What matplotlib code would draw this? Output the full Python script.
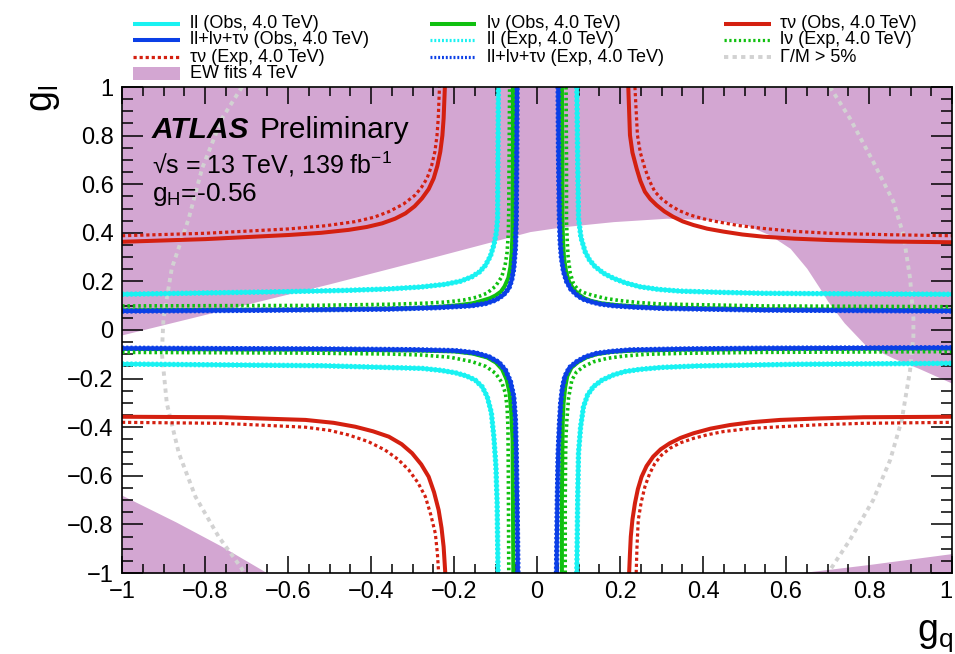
import matplotlib
matplotlib.use("Agg")
import matplotlib.pyplot as plt
from matplotlib.lines import Line2D
from matplotlib.patches import Rectangle
from matplotlib.ticker import MultipleLocator

plt.rcParams['font.family'] = ['Liberation Sans', 'DejaVu Sans']
plt.rcParams['mathtext.fontset'] = 'custom'
plt.rcParams['mathtext.rm'] = 'Liberation Sans'
plt.rcParams['mathtext.it'] = 'Liberation Sans'

# 95% CL contours in the (g_q, g_l) plane, one list of (g_q, g_l) per quadrant
# tr = top right, tl = top left, bl = bottom left, br = bottom right

# ll (dilepton) observed
ll_obs_tr = [(0.096, 1.0), (0.098, 0.7), (0.100, 0.46), (0.106, 0.38), (0.116, 0.322), (0.127, 0.287),
             (0.140, 0.261), (0.160, 0.234), (0.184, 0.213), (0.213, 0.194), (0.248, 0.178),
             (0.293, 0.167), (0.345, 0.160), (0.44, 0.155), (0.545, 0.151), (0.75, 0.149), (1.0, 0.147)]
ll_obs_tl = [(-1.0, 0.147), (-0.598, 0.158), (-0.46, 0.163), (-0.357, 0.169), (-0.28, 0.177),
             (-0.221, 0.188), (-0.184, 0.201), (-0.157, 0.219), (-0.138, 0.240), (-0.124, 0.267),
             (-0.112, 0.305), (-0.104, 0.350), (-0.098, 0.40), (-0.095, 0.46), (-0.094, 0.7), (-0.093, 1.0)]
ll_obs_bl = [(-1.0, -0.140), (-0.518, -0.147), (-0.277, -0.158), (-0.232, -0.166), (-0.197, -0.176),
             (-0.170, -0.189), (-0.149, -0.206), (-0.132, -0.234), (-0.120, -0.274), (-0.110, -0.340),
             (-0.104, -0.439), (-0.099, -0.56), (-0.096, -0.713), (-0.094, -1.0)]
ll_obs_br = [(0.096, -1.0), (0.098, -0.7), (0.100, -0.507), (0.105, -0.40), (0.112, -0.316),
             (0.122, -0.267), (0.136, -0.233), (0.157, -0.206), (0.184, -0.185), (0.212, -0.171),
             (0.248, -0.162), (0.30, -0.154), (0.385, -0.148), (0.626, -0.141), (1.0, -0.137)]

# lnu (W') observed
lv_obs_tr = [(0.060, 1.0), (0.061, 0.7), (0.061, 0.46), (0.063, 0.36), (0.065, 0.30), (0.070, 0.24),
             (0.077, 0.20), (0.087, 0.170), (0.100, 0.147), (0.114, 0.131), (0.130, 0.120),
             (0.155, 0.110), (0.190, 0.103), (0.240, 0.097), (0.300, 0.092), (0.550, 0.085), (1.0, 0.081)]
lv_obs_tl = [(-1.0, 0.081), (-0.55, 0.084), (-0.30, 0.090), (-0.24, 0.095), (-0.19, 0.102),
             (-0.155, 0.110), (-0.13, 0.122), (-0.113, 0.131), (-0.10, 0.142), (-0.087, 0.158),
             (-0.078, 0.18), (-0.069, 0.215), (-0.064, 0.26), (-0.061, 0.32), (-0.059, 0.40),
             (-0.058, 0.7), (-0.058, 1.0)]
lv_obs_bl = [(-1.0, -0.078), (-0.50, -0.081), (-0.30, -0.084), (-0.20, -0.088), (-0.155, -0.097),
             (-0.12, -0.113), (-0.099, -0.134), (-0.084, -0.162), (-0.073, -0.205), (-0.066, -0.26),
             (-0.062, -0.34), (-0.059, -0.45), (-0.058, -0.7), (-0.057, -1.0)]
lv_obs_br = [(0.060, -1.0), (0.060, -0.7), (0.061, -0.50), (0.062, -0.38), (0.064, -0.30),
             (0.068, -0.235), (0.073, -0.19), (0.083, -0.155), (0.099, -0.132), (0.120, -0.112),
             (0.145, -0.099), (0.180, -0.090), (0.230, -0.085), (0.35, -0.081), (0.550, -0.078), (1.0, -0.076)]

# lnu expected
lv_exp_tr = [(0.070, 1.0), (0.071, 0.7), (0.071, 0.45), (0.073, 0.36), (0.075, 0.30), (0.080, 0.235),
             (0.088, 0.19), (0.096, 0.172), (0.105, 0.160), (0.119, 0.150), (0.136, 0.142),
             (0.165, 0.130), (0.200, 0.121), (0.245, 0.113), (0.300, 0.107), (0.550, 0.099), (1.0, 0.096)]
lv_exp_tl = [(-1.0, 0.099), (-0.55, 0.101), (-0.35, 0.106), (-0.274, 0.110), (-0.22, 0.115),
             (-0.178, 0.123), (-0.145, 0.135), (-0.121, 0.151), (-0.100, 0.180), (-0.085, 0.219),
             (-0.077, 0.265), (-0.072, 0.32), (-0.069, 0.40), (-0.068, 0.5), (-0.067, 0.75), (-0.066, 1.0)]
lv_exp_bl = [(-1.0, -0.092), (-0.55, -0.095), (-0.35, -0.099), (-0.277, -0.103), (-0.210, -0.112),
             (-0.157, -0.130), (-0.123, -0.150), (-0.100, -0.178), (-0.085, -0.215), (-0.076, -0.261),
             (-0.072, -0.32), (-0.070, -0.40), (-0.069, -0.6), (-0.068, -1.0)]
lv_exp_br = [(0.068, -1.0), (0.068, -0.7), (0.069, -0.50), (0.070, -0.43), (0.072, -0.37),
             (0.076, -0.28), (0.084, -0.206), (0.095, -0.173), (0.112, -0.151), (0.136, -0.131),
             (0.168, -0.117), (0.210, -0.107), (0.264, -0.100), (0.35, -0.096), (0.545, -0.092), (1.0, -0.089)]

# taunu observed
tv_obs_tr = [(0.220, 1.0), (0.222, 0.90), (0.224, 0.802), (0.230, 0.73), (0.240, 0.665), (0.249, 0.614),
             (0.260, 0.569), (0.273, 0.539), (0.288, 0.514), (0.307, 0.488), (0.328, 0.466),
             (0.351, 0.447), (0.377, 0.432), (0.410, 0.417), (0.449, 0.405), (0.495, 0.393),
             (0.545, 0.384), (0.62, 0.376), (0.706, 0.370), (0.85, 0.364), (1.0, 0.361)]
tv_obs_tl = [(-1.0, 0.363), (-0.799, 0.374), (-0.598, 0.391), (-0.52, 0.400), (-0.454, 0.412),
             (-0.41, 0.424), (-0.373, 0.439), (-0.342, 0.458), (-0.317, 0.480), (-0.295, 0.509),
             (-0.277, 0.542), (-0.261, 0.580), (-0.249, 0.624), (-0.240, 0.676), (-0.233, 0.734),
             (-0.228, 0.80), (-0.225, 0.871), (-0.222, 1.0)]
tv_obs_bl = [(-1.0, -0.357), (-0.759, -0.359), (-0.558, -0.370), (-0.49, -0.382), (-0.438, -0.398),
             (-0.395, -0.417), (-0.357, -0.439), (-0.326, -0.470), (-0.301, -0.507), (-0.279, -0.553),
             (-0.261, -0.604), (-0.248, -0.668), (-0.237, -0.741), (-0.230, -0.815), (-0.225, -0.892),
             (-0.221, -1.0)]
tv_obs_br = [(0.222, -1.0), (0.224, -0.92), (0.226, -0.850), (0.230, -0.78), (0.236, -0.713),
             (0.243, -0.655), (0.252, -0.604), (0.264, -0.560), (0.280, -0.521), (0.298, -0.491),
             (0.320, -0.466), (0.346, -0.444), (0.377, -0.425), (0.418, -0.406), (0.465, -0.391),
             (0.52, -0.379), (0.586, -0.370), (0.68, -0.364), (0.786, -0.359), (1.0, -0.357)]

# taunu expected
tv_exp_tr = [(0.236, 1.0), (0.239, 0.90), (0.242, 0.802), (0.249, 0.73), (0.260, 0.665), (0.271, 0.614),
             (0.284, 0.569), (0.301, 0.539), (0.320, 0.514), (0.343, 0.491), (0.369, 0.473),
             (0.400, 0.458), (0.433, 0.446), (0.485, 0.430), (0.545, 0.418), (0.62, 0.406),
             (0.706, 0.398), (0.85, 0.392), (1.0, 0.388)]
tv_exp_tl = [(-1.0, 0.388), (-0.799, 0.398), (-0.598, 0.416), (-0.51, 0.429), (-0.438, 0.446),
             (-0.393, 0.464), (-0.357, 0.487), (-0.322, 0.518), (-0.293, 0.556), (-0.278, 0.588),
             (-0.265, 0.624), (-0.254, 0.676), (-0.246, 0.734), (-0.241, 0.80), (-0.238, 0.871), (-0.235, 1.0)]
tv_exp_bl = [(-1.0, -0.380), (-0.759, -0.384), (-0.558, -0.400), (-0.50, -0.413), (-0.454, -0.432),
             (-0.407, -0.459), (-0.366, -0.494), (-0.335, -0.532), (-0.309, -0.576), (-0.287, -0.628),
             (-0.269, -0.686), (-0.256, -0.760), (-0.245, -0.837), (-0.240, -0.92), (-0.237, -1.0)]
tv_exp_br = [(0.239, -1.0), (0.241, -0.89), (0.244, -0.782), (0.251, -0.71), (0.260, -0.645),
             (0.271, -0.593), (0.284, -0.549), (0.300, -0.515), (0.320, -0.487), (0.346, -0.464),
             (0.377, -0.446), (0.411, -0.431), (0.449, -0.418), (0.51, -0.406), (0.586, -0.398),
             (0.68, -0.390), (0.786, -0.384), (1.0, -0.380)]

# ll+lnu+taunu combined observed
comb_obs_tr = [(0.051, 1.0), (0.052, 0.7), (0.054, 0.46), (0.056, 0.36), (0.059, 0.295), (0.064, 0.240),
               (0.0715, 0.199), (0.082, 0.167), (0.096, 0.144), (0.110, 0.128), (0.128, 0.117),
               (0.152, 0.107), (0.184, 0.100), (0.235, 0.094), (0.304, 0.089), (0.545, 0.082), (1.0, 0.078)]
comb_obs_tl = [(-1.0, 0.078), (-0.679, 0.081), (-0.357, 0.086), (-0.24, 0.092), (-0.157, 0.100),
               (-0.124, 0.109), (-0.100, 0.123), (-0.081, 0.144), (-0.068, 0.171), (-0.061, 0.205),
               (-0.056, 0.254), (-0.052, 0.34), (-0.050, 0.46), (-0.049, 0.7), (-0.048, 1.0)]
comb_obs_bl = [(-1.0, -0.075), (-0.518, -0.078), (-0.30, -0.081), (-0.197, -0.085), (-0.148, -0.094),
               (-0.116, -0.110), (-0.092, -0.133), (-0.076, -0.165), (-0.064, -0.212), (-0.056, -0.274),
               (-0.052, -0.37), (-0.050, -0.507), (-0.048, -0.7), (-0.046, -1.0)]
comb_obs_br = [(0.047, -1.0), (0.049, -0.7), (0.051, -0.507), (0.054, -0.39), (0.057, -0.302),
               (0.061, -0.24), (0.067, -0.192), (0.078, -0.155), (0.096, -0.130), (0.117, -0.110),
               (0.144, -0.096), (0.180, -0.088), (0.224, -0.082), (0.35, -0.078), (0.545, -0.075), (1.0, -0.073)]

# expected ll and combined contours lie on top of the observed ones
ll_exp = [ll_obs_tr, ll_obs_tl, ll_obs_bl, ll_obs_br]
comb_exp = [comb_obs_tr, comb_obs_tl, comb_obs_bl, comb_obs_br]

# Gamma/M > 5% boundaries
width_left = [(-0.711, 1.0), (-0.759, 0.871), (-0.807, 0.665), (-0.839, 0.460), (-0.880, 0.254),
              (-0.900, 0.048), (-0.904, -0.095), (-0.892, -0.302), (-0.863, -0.507), (-0.823, -0.686),
              (-0.767, -0.851), (-0.715, -0.973), (-0.705, -1.0)]
width_right = [(0.706, 1.0), (0.754, 0.871), (0.810, 0.693), (0.859, 0.528), (0.883, 0.391),
               (0.899, 0.213), (0.907, 0.048), (0.907, -0.025), (0.899, -0.165), (0.879, -0.370),
               (0.851, -0.535), (0.810, -0.700), (0.754, -0.864), (0.706, -0.988)]

# EW fit allowed region (shaded)
ew_upper_x = [-1.0, -0.75, -0.5, -0.25, -0.017, 0.063, 0.184, 0.313, 0.425, 0.505, 0.561,
              0.610, 0.650, 0.682, 0.70, 0.74, 0.79, 0.86, 0.92, 1.0]
ew_upper_y = [-0.02, 0.085, 0.19, 0.30, 0.405, 0.425, 0.446, 0.460, 0.453, 0.432, 0.391,
              0.336, 0.254, 0.170, 0.12, 0.03, -0.06, -0.117, -0.158, -0.219]
ew_lowleft_x = [-1.0, -0.87, -0.76, -0.65]
ew_lowleft_y = [-0.68, -0.79, -0.89, -1.0]
ew_lowright_x = [0.63, 0.80, 1.0]
ew_lowright_y = [-1.0, -0.965, -0.92]

tick_vals = [-1.0, -0.8, -0.6, -0.4, -0.2, 0.0, 0.2, 0.4, 0.6, 0.8, 1.0]
tick_labels = ['\u22121', '\u22120.8', '\u22120.6', '\u22120.4', '\u22120.2', '0',
               '0.2', '0.4', '0.6', '0.8', '1']

CYAN = '#19f2f2'
BLUE = '#0b3fe6'
GREEN = '#10c010'
RED = '#d42010'
PURPLE = '#d3a6d2'
GREY = '#d2d2d2'

W, H = 955, 654
fig = plt.figure(figsize=(W / 100, H / 100), dpi=100)
ax = fig.add_axes([122 / W, 1 - 573 / H, 830 / W, 486 / H])


def draw(quads, **kw):
    for q in quads:
        ax.plot([p[0] for p in q], [p[1] for p in q], solid_capstyle='butt',
                dash_capstyle='butt', solid_joinstyle='round', **kw)


ax.fill_between(ew_upper_x, ew_upper_y, 1.0, color=PURPLE, lw=0, zorder=0.5)
ax.fill_between(ew_lowleft_x, -1.0, ew_lowleft_y, color=PURPLE, lw=0, zorder=0.5)
ax.fill_between(ew_lowright_x, -1.0, ew_lowright_y, color=PURPLE, lw=0, zorder=0.5)

draw([width_left, width_right], color=GREY, lw=2.8, dashes=(1.1, 1.1), zorder=1)

draw([tv_exp_tr, tv_exp_tl, tv_exp_bl, tv_exp_br], color=RED, lw=2.3, dashes=(1.0, 0.9), zorder=2)
draw([tv_obs_tr, tv_obs_tl, tv_obs_bl, tv_obs_br], color=RED, lw=2.9, zorder=2.1)
draw(ll_exp, color=CYAN, lw=3.8, dashes=(0.4, 0.4), zorder=2.2)
draw([ll_obs_tr, ll_obs_tl, ll_obs_bl, ll_obs_br], color=CYAN, lw=2.9, zorder=2.3)
draw([lv_exp_tr, lv_exp_tl, lv_exp_bl, lv_exp_br], color=GREEN, lw=2.6, dashes=(0.7, 0.8), zorder=2.4)
draw([lv_obs_tr, lv_obs_tl, lv_obs_bl, lv_obs_br], color=GREEN, lw=2.9, zorder=2.5)
draw(comb_exp, color=BLUE, lw=3.8, dashes=(0.4, 0.4), zorder=2.6)
draw([comb_obs_tr, comb_obs_tl, comb_obs_bl, comb_obs_br], color=BLUE, lw=2.9, zorder=2.7)

ax.set_xlim(-1, 1)
ax.set_ylim(-1, 1)
ax.set_xticks(tick_vals)
ax.set_xticklabels(tick_labels)
ax.set_yticks(tick_vals)
ax.set_yticklabels(tick_labels)
ax.get_xticklabels()[-1].set_horizontalalignment('right')
ax.xaxis.set_minor_locator(MultipleLocator(0.05))
ax.yaxis.set_minor_locator(MultipleLocator(0.05))
ax.tick_params(axis='both', which='both', direction='in', top=True, right=True,
               width=1.1, labelsize=17, colors='black')
ax.tick_params(axis='x', which='major', length=12.5, pad=6)
ax.tick_params(axis='x', which='minor', length=6.5)
ax.tick_params(axis='y', which='major', length=15, pad=6)
ax.tick_params(axis='y', which='minor', length=8)
for s in ax.spines.values():
    s.set_linewidth(1.2)
    s.set_zorder(5)

# axis titles
fig.text(953 / W, 1 - 641 / H, r'g$_{\mathregular{q}}$', fontsize=27, ha='right', va='baseline')
fig.text(44 / W, 1 - 85 / H, r'g$_{\mathregular{l}}$', fontsize=27, rotation=90, ha='center', va='top')

# labels inside the frame
ax.text(0.036, 0.895, 'ATLAS', transform=ax.transAxes, fontsize=21.5, fontweight='bold',
        fontstyle='italic')
ax.text(0.166, 0.895, 'Preliminary', transform=ax.transAxes, fontsize=21.5)
ax.text(0.036, 0.823, '\u221as = 13 TeV, 139 fb$^{\\mathregular{-1}}$', transform=ax.transAxes,
        fontsize=18)
ax.text(0.036, 0.765, 'g$_{\\mathregular{H}}$=-0.56', transform=ax.transAxes, fontsize=19)

# legend drawn in three columns above the frame
line_cols = [(133, 180), (430, 476), (724, 771)]
text_cols = [190, 487, 780]
rows = [24, 40, 57, 73]
entries = [
    (0, 0, 'll (Obs, 4.0 TeV)', dict(color=CYAN, lw=2.9)),
    (0, 1, 'll+l\u03bd+\u03c4\u03bd (Obs, 4.0 TeV)', dict(color=BLUE, lw=2.9)),
    (0, 2, '\u03c4\u03bd (Exp, 4.0 TeV)', dict(color=RED, lw=2.3, dashes=(1.0, 0.9))),
    (1, 0, 'l\u03bd (Obs, 4.0 TeV)', dict(color=GREEN, lw=2.9)),
    (1, 1, 'll (Exp, 4.0 TeV)', dict(color=CYAN, lw=2.3, dashes=(0.6, 0.6))),
    (1, 2, 'll+l\u03bd+\u03c4\u03bd (Exp, 4.0 TeV)', dict(color=BLUE, lw=2.3, dashes=(0.6, 0.6))),
    (2, 0, '\u03c4\u03bd (Obs, 4.0 TeV)', dict(color=RED, lw=2.9)),
    (2, 1, 'l\u03bd (Exp, 4.0 TeV)', dict(color=GREEN, lw=2.3, dashes=(0.7, 0.8))),
    (2, 2, '\u0393/M > 5%', dict(color=GREY, lw=2.8, dashes=(1.1, 1.1))),
]
for c, r, label, style in entries:
    x0, x1 = line_cols[c]
    y = 1 - rows[r] / H
    fig.add_artist(Line2D([x0 / W, x1 / W], [y, y], transform=fig.transFigure,
                          solid_capstyle='butt', dash_capstyle='butt', **style))
    fig.text(text_cols[c] / W, y, label, fontsize=13, va='center')
fig.add_artist(Rectangle((133 / W, 1 - 80 / H), 47 / W, 13 / H, transform=fig.transFigure,
                         color=PURPLE, lw=0))
fig.text(text_cols[0] / W, 1 - rows[3] / H, 'EW fits 4 TeV', fontsize=13, va='center')

fig.savefig('out.png', dpi=100)
